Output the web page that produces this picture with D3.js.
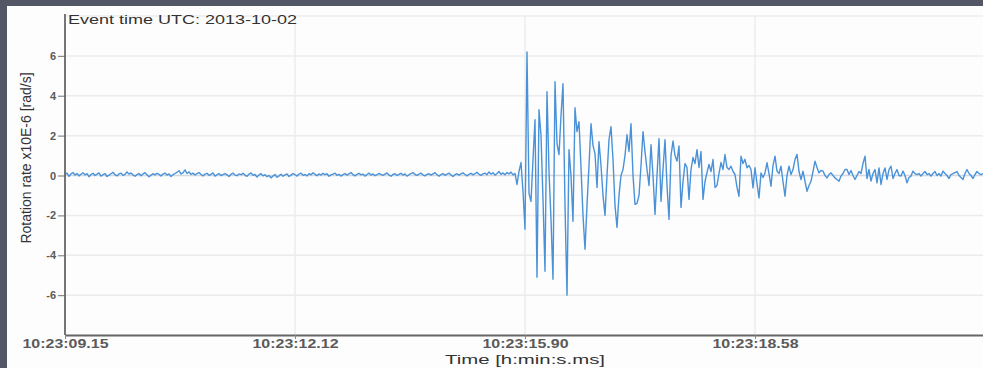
<!DOCTYPE html>
<html>
<head>
<meta charset="utf-8">
<script src="https://cdn.jsdelivr.net/npm/d3@7"></script>
<style>
  html, body { margin: 0; padding: 0; background: #535665; }
  svg { display: block; }
</style>
</head>
<body>
<svg id="chart" width="983" height="368"></svg>
<script>
// Rotation rate samples (x10E-6 rad/s), uniform sampling from 10:23:09.15 onward
const quietRate = [
  0.05, 0.12, -0.04, 0.08, 0.15, 0.02, 0.10, -0.02, 0.06, 0.14,
  0.03, 0.09, -0.06, 0.05, 0.11, 0.00, 0.07, 0.13, -0.03, 0.04,
  0.10, -0.05, 0.02, 0.09, 0.16, 0.04, -0.02, 0.08, 0.12, 0.01,
  0.06, 0.18, 0.07, 0.13, 0.03, -0.04, 0.05, 0.10, -0.01, 0.08,
  0.14, 0.04, -0.06, 0.02, 0.09, 0.03, 0.11, 0.06, -0.03, 0.07,
  0.12, 0.02, 0.08, -0.05, 0.04, 0.10, 0.16, 0.24, 0.08, 0.13,
  0.28, 0.10, 0.18, 0.06, 0.12, 0.03, 0.09, 0.15, 0.05, -0.02,
  0.07, 0.11, 0.01, 0.06, 0.13, -0.03, 0.04, 0.09, 0.00, 0.05,
  0.10, 0.03, -0.05, 0.06, 0.12, 0.02, -0.01, 0.08, 0.04, 0.11,
  0.02, -0.04, 0.07, 0.13, 0.01, 0.05, -0.08, 0.03, 0.09, -0.02,
  0.04, -0.06, 0.00, -0.12, -0.03, 0.05, -0.09, -0.02, 0.06, -0.04,
  0.03, 0.08, -0.05, 0.02, 0.10, 0.04, -0.03, 0.07, 0.12, 0.01,
  0.05, -0.02, 0.09, 0.03, 0.14, 0.06, -0.01, 0.08, 0.02, 0.11,
  0.04, 0.09, -0.04, 0.03, 0.07, 0.12, 0.01, 0.06, -0.03, 0.05,
  0.10, 0.02, 0.08, 0.15, 0.04, -0.02, 0.06, 0.11, 0.03, 0.07,
  -0.03, 0.05, 0.12, 0.02, 0.08, -0.01, 0.04, 0.10, 0.06, 0.01,
  0.07, 0.13, 0.03, -0.04, 0.05, 0.09, 0.00, 0.06, 0.11, 0.02,
  0.08, -0.03, 0.04, 0.10, 0.15, 0.05, 0.01, 0.07, 0.12, 0.03,
  -0.02, 0.06, 0.09, 0.02, 0.08, 0.14, 0.04, -0.03, 0.05, 0.10,
  0.01, 0.07, 0.12, 0.03, -0.05, 0.04, 0.09, 0.02, 0.08, 0.13,
  0.05, -0.02, 0.06, 0.11, 0.03, 0.09, 0.16, 0.06, 0.01, 0.08,
  0.12, 0.04, 0.18, 0.07, 0.14, 0.02, 0.10, 0.20, 0.06, 0.13,
  0.04, 0.15, 0.08, 0.17, 0.03, 0.10
];

const eventRate = [
  -0.45, 0.2, 0.65, -0.8, -2.7, 6.2, -0.9, -1.3, 0.8, 2.8,
  -5.1, 3.3, 2.0, -1.2, -4.8, 4.2, 0.2, -2.2, -5.2, 4.7,
  1.6, 1.05, 3.0, 4.6, -1.5, -6.0, 1.3, 0.0, -2.3, 3.4,
  2.2, 2.7, 0.4, -2.0, -3.7, -1.5, 0.5, 2.6, 1.5, 1.1,
  -0.6, 1.7, 0.5, -1.0, -2.0, 0.0, 1.8, 2.45, 0.8, -1.5,
  -2.6, -1.0, 0.0, 0.3, 1.0, 2.05, 1.2, 2.6, 0.0, -1.45,
  -1.4, -1.0, 0.5, 2.2, 1.2, 0.3, -0.5, 1.55, 0.0, -1.95,
  0.0, 1.85, -1.3, 0.3, 1.8, -0.5, -2.2, 1.0, 1.73, 1.0,
  0.72, 1.48, -1.6, -0.3, 0.6, 0.4, -1.2, 0.3, 0.9, 0.6,
  1.3, 0.4, 1.2, -1.2, -0.3, 0.15, 0.55, 0.2, 0.8, -0.6,
  -0.5, 0.1, 0.65, 0.3, 1.05, 0.4, 0.3,
  0.47, 0.2, 0.05, -0.6, -1.04, 0.97, 0.6, 0.81, 0.39, 0.5,
  0.3, -0.62, 0.39, -0.4, -1.13, 0.13, -0.1, 0.13, 0.64, 0.1,
  -0.54, 0.5, 0.97, 0.22, 0.1, 0.47, -0.3, -1.04, 0.0, 0.47,
  0.05, 0.3, 0.8, 1.06, 0.2, -0.2, 0.22, -0.3, -0.79, -0.5,
  -0.29, 0.2, 0.72, 0.4, 0.13, 0.25, 0.22, 0.0, -0.12, 0.05,
  0.13, 0.0, -0.12, -0.2, -0.29, -0.03, 0.1, 0.3, 0.3, 0.05,
  0.25, 0.0, -0.2, 0.0, 0.2, 0.1, 0.6, 0.97, -0.15, 0.3,
  -0.28, 0.1, 0.3, -0.37, 0.38, -0.45, 0.1, 0.38, -0.2, 0.3,
  0.47, -0.15, 0.1, 0.3, 0.0, -0.03, 0.22, 0.0, -0.37, -0.1,
  -0.03, 0.22, 0.1, 0.05, 0.1, -0.03, 0.1, 0.2, 0.05, 0.1,
  -0.03, 0.1, 0.2, 0.0, 0.1, -0.03, 0.22, 0.1, 0.0, -0.15,
  0.05, 0.1, 0.15, 0.2, 0.0, -0.1, -0.2, 0.1, 0.3, 0.1,
  0.0, -0.15, 0.05, 0.2, 0.1, 0.05, 0.1
];

const rate = quietRate.concat(eventRate);

// Time axis: sample index of each labelled tick and its label
const timeTickIndex = [0, 115, 230, 345];
const timeTickLabels = ["10:23:09.15", "10:23:12.12", "10:23:15.90", "10:23:18.58"];

// Rotation rate axis
const rateTicks = [-6, -4, -2, 0, 2, 4, 6];
const rateGrid = [-6, -4, -2, 0, 2, 4, 6, 8];
const rateDomain = [-8, 8];

const eventDate = "2013-10-02";

const FONT = "'Liberation Sans', Arial, Helvetica, sans-serif";

const svg = d3.select("#chart");
const W = 983, H = 368;
const plot = { left: 65, right: 983, top: 16, bottom: 335 };

// backdrop and white panel
svg.append("rect").attr("width", W).attr("height", H).attr("fill", "#535665");
svg.append("rect").attr("x", 7).attr("y", 6).attr("width", W - 7).attr("height", H - 6).attr("fill", "#fdfdfd");

const x = d3.scaleLinear().domain([0, rate.length - 1]).range([plot.left, plot.right]);
const y = d3.scaleLinear().domain(rateDomain).range([plot.bottom, plot.top]);

// grid
const grid = svg.append("g");
grid.selectAll("line.h").data(rateGrid).join("line")
  .attr("x1", plot.left).attr("x2", plot.right)
  .attr("y1", d => y(d)).attr("y2", d => y(d))
  .attr("stroke", d => d === 0 ? "#d4d7dd" : "#ececec")
  .attr("stroke-width", 1.5);
grid.selectAll("line.v").data(timeTickIndex.slice(1)).join("line")
  .attr("x1", d => x(d)).attr("x2", d => x(d))
  .attr("y1", plot.top).attr("y2", plot.bottom)
  .attr("stroke", "#ececec")
  .attr("stroke-width", 1.5);

// signal
svg.append("clipPath").attr("id", "plotClip").append("rect")
  .attr("x", plot.left).attr("y", plot.top - 4)
  .attr("width", plot.right - plot.left).attr("height", plot.bottom - plot.top + 4);

const line = d3.line().x((d, i) => x(i)).y(d => y(d));
svg.append("path")
  .datum(rate)
  .attr("clip-path", "url(#plotClip)")
  .attr("fill", "none")
  .attr("stroke", "#4a92d8")
  .attr("stroke-width", 1.4)
  .attr("stroke-linejoin", "round")
  .attr("d", line);

// y axis
const yAxis = svg.append("g")
  .attr("transform", `translate(${plot.left},0)`)
  .call(d3.axisLeft(y).tickValues(rateTicks).tickSize(7).tickSizeOuter(0).tickFormat(d => String(d)));
yAxis.select(".domain").remove();
yAxis.selectAll(".tick line").attr("stroke", "#8a8a8a").attr("stroke-width", 1.2);
yAxis.selectAll(".tick text")
  .attr("x", -9)
  .attr("font-family", FONT).attr("font-size", 11).attr("font-weight", "bold")
  .attr("fill", "#5a5a5a");
svg.append("line")
  .attr("x1", plot.left).attr("x2", plot.left)
  .attr("y1", 14).attr("y2", plot.bottom)
  .attr("stroke", "#666").attr("stroke-width", 1.8);

// x axis
const xAxis = svg.append("g")
  .attr("transform", `translate(0,${plot.bottom})`)
  .call(d3.axisBottom(x).tickValues(timeTickIndex).tickSize(4).tickSizeOuter(0)
    .tickFormat((d, i) => timeTickLabels[i]));
xAxis.select(".domain").attr("stroke", "#666").attr("stroke-width", 1.8);
xAxis.selectAll(".tick line").attr("stroke", "#8a8a8a");
xAxis.selectAll(".tick text")
  .attr("y", 13).attr("dy", 0)
  .attr("font-family", FONT).attr("font-size", 12).attr("font-weight", "bold")
  .attr("fill", "#5a5a5a")
  .attr("textLength", 86).attr("lengthAdjust", "spacingAndGlyphs");

// titles
svg.append("text")
  .attr("x", 68).attr("y", 24)
  .attr("font-family", FONT).attr("font-size", 12.5)
  .attr("fill", "#333")
  .attr("textLength", 229).attr("lengthAdjust", "spacingAndGlyphs")
  .text("Event time UTC: " + eventDate);

svg.append("text")
  .attr("transform", "translate(31,158) rotate(-90)")
  .attr("text-anchor", "middle")
  .attr("font-family", FONT).attr("font-size", 14)
  .attr("fill", "#333")
  .text("Rotation rate x10E-6 [rad/s]");

svg.append("text")
  .attr("x", x(timeTickIndex[2])).attr("y", 364)
  .attr("text-anchor", "middle")
  .attr("font-family", FONT).attr("font-size", 13.5)
  .attr("fill", "#333")
  .attr("textLength", 160).attr("lengthAdjust", "spacingAndGlyphs")
  .text("Time [h:min:s.ms]");
</script>
</body>
</html>
